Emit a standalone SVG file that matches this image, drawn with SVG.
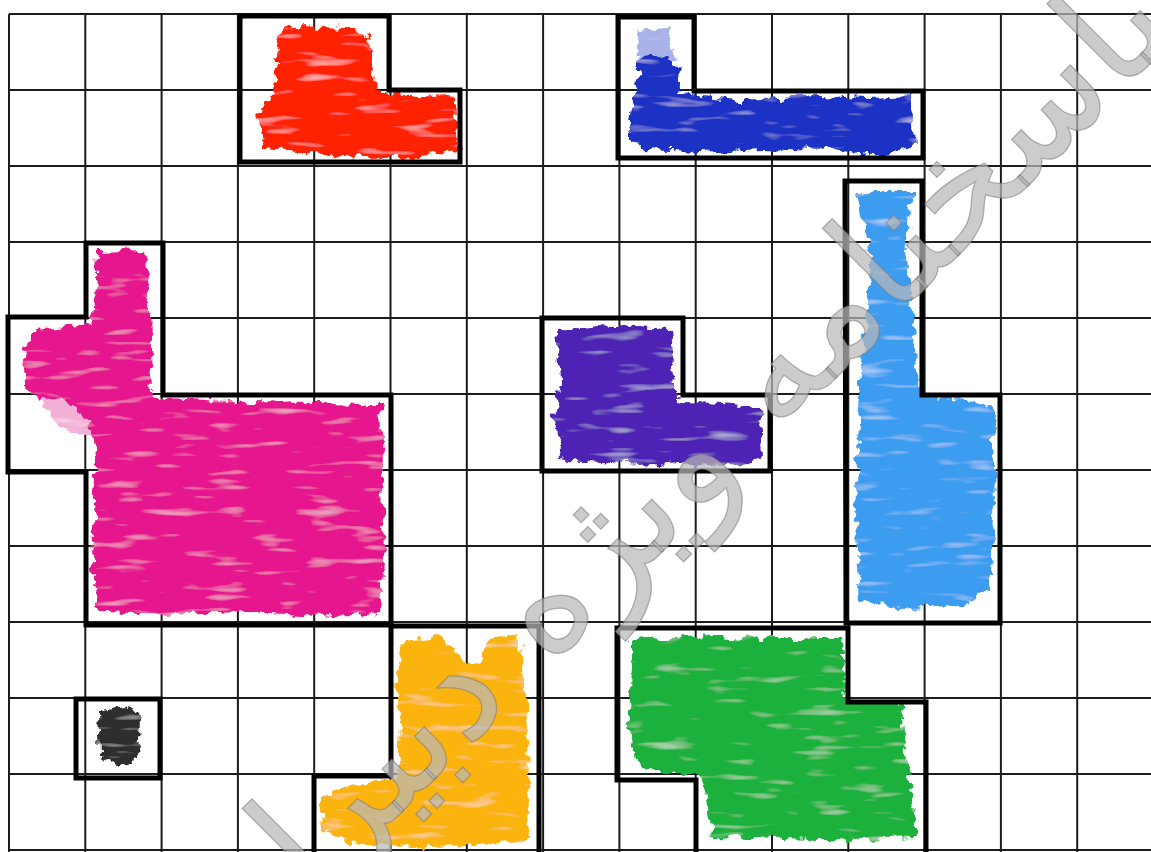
<svg xmlns="http://www.w3.org/2000/svg" width="1151" height="852" viewBox="0 0 1151 852">
<defs>
<filter id="brush" x="-10%" y="-10%" width="120%" height="120%">
<feTurbulence type="fractalNoise" baseFrequency="0.09" numOctaves="3" seed="3" result="n"/>
<feDisplacementMap in="SourceGraphic" in2="n" scale="14" xChannelSelector="R" yChannelSelector="G" result="d"/>
<feTurbulence type="fractalNoise" baseFrequency="0.02 0.12" numOctaves="2" seed="7" result="t"/>
<feColorMatrix in="t" type="matrix" values="0 0 0 0 1  0 0 0 0 1  0 0 0 0 1  0 0 0 1.4 -0.85" result="w"/>
<feComposite in="w" in2="d" operator="in" result="wi"/>
<feMerge><feMergeNode in="d"/><feMergeNode in="wi"/></feMerge>
</filter>
<style>
.grid{stroke:#1c1c1c;stroke-width:2;fill:none}
.box{fill:none;stroke:#000;stroke-width:5;stroke-linejoin:miter}
.paint{filter:url(#brush)}
.wm{font-family:"DejaVu Sans",sans-serif;font-size:152px;fill:#b9b9b9;fill-opacity:.72;stroke:#7a7a7a;stroke-opacity:.55;stroke-width:1.3}
</style>
</defs>
<rect width="1151" height="852" fill="#fff"/>
<g id="grid" class="grid">
<path d="M9,14V852M85.3,14V852M161.6,14V852M237.9,14V852M314.2,14V852M390.5,14V852M466.8,14V852M543.1,14V852M619.4,14V852M695.7,14V852M772,14V852M848.3,14V852M924.6,14V852M1000.9,14V852M1077.2,14V852"/>
<path d="M9,14H1151M9,90H1151M9,166H1151M9,242H1151M9,318H1151M9,394H1151M9,470H1151M9,546H1151M9,622H1151M9,698H1151M9,774H1151M9,850H1151"/>
</g>
<g id="red">
<path class="paint" fill="#ff2200" d="M282,30 L300,26 L345,28 L368,34 L372,60 L378,90 L420,96 L455,98 L458,150 L420,156 L380,158 L330,155 L290,150 L262,148 L258,120 L270,95 L278,70 L275,50 Z"/>
<polygon class="box" points="240,16 389,16 389,90 460,90 460,162 240,162"/>
</g>
<g id="blue">
<path class="paint" fill="#a9b3ea" d="M636,30 L668,28 L676,60 L640,62 Z"/>
<path class="paint" fill="#1f30c4" d="M638,58 L668,56 L680,70 L678,95 L740,100 L820,96 L870,98 L912,96 L914,150 L880,156 L820,150 L760,148 L700,152 L640,150 L628,130 L632,100 L640,80 Z"/>
<polygon class="box" points="618,17 694,17 694,91 923,91 923,158 618,158"/>
</g>
<g id="lightblue">
<path class="paint" fill="#3b9cf0" d="M856,192 L914,192 L905,240 L912,300 L920,395 L975,402 L992,410 L995,500 L990,590 L960,605 L900,610 L860,600 L855,520 L858,420 L866,330 L872,260 Z"/>
<polygon class="box" points="845,181 922,181 922,395 1000,395 1000,623 846,623"/>
</g>
<g id="purple">
<path class="paint" fill="#4d22b4" d="M556,330 L600,326 L670,330 L676,400 L720,404 L760,408 L762,460 L720,466 L680,462 L640,466 L600,462 L560,458 L555,420 L560,380 Z"/>
<polygon class="box" points="542,318 683,318 683,395 770,395 770,471 542,471"/>
</g>
<g id="pink">
<path class="paint" fill="#f3b0d6" d="M40,395 L150,395 L150,440 L100,440 L60,430 Z"/>
<path class="paint" fill="#e5198e" d="M98,252 L145,250 L150,300 L152,395 L165,398 L250,402 L380,404 L382,470 L384,560 L380,612 L320,616 L250,612 L180,614 L98,612 L92,560 L95,470 L90,420 L60,400 L30,395 L22,350 L35,330 L92,325 L96,300 Z"/>
<polygon class="box" points="86,243 163,243 163,395 391,395 391,625 86,625 86,472 8,472 8,317 86,317"/>
</g>
<g id="black">
<path class="paint" fill="#2e2e2e" d="M98,712 L130,706 L140,720 L138,760 L115,765 L100,755 Z"/>
<polygon class="box" points="76,699 160,699 160,778 76,778"/>
</g>
<g id="yellow">
<path class="paint" fill="#fbb30c" d="M402,640 L440,636 L465,660 L480,662 L488,640 L520,636 L526,700 L528,780 L530,840 L480,845 L420,846 L360,845 L322,832 L320,795 L350,785 L398,780 L400,720 L396,690 Z"/>
<polyline class="box" points="314,852 314,776 391,776 391,626 539,626 539,852"/>
</g>
<g id="green">
<path class="paint" fill="#1fb03d" d="M632,640 L700,636 L760,640 L842,640 L846,700 L900,705 L908,760 L912,800 L915,838 L860,840 L780,838 L712,836 L706,790 L700,775 L640,770 L628,730 L630,690 Z"/>
<polyline class="box" points="696,852 696,780 617,780 617,628 848,628 848,702 926,702 926,852"/>
</g>
<g id="watermark" transform="translate(708,506) rotate(-45)">
<text class="wm" x="0" y="0" text-anchor="middle" direction="rtl">پاسخنامه ویژه دبیران</text>
</g>
</svg>
